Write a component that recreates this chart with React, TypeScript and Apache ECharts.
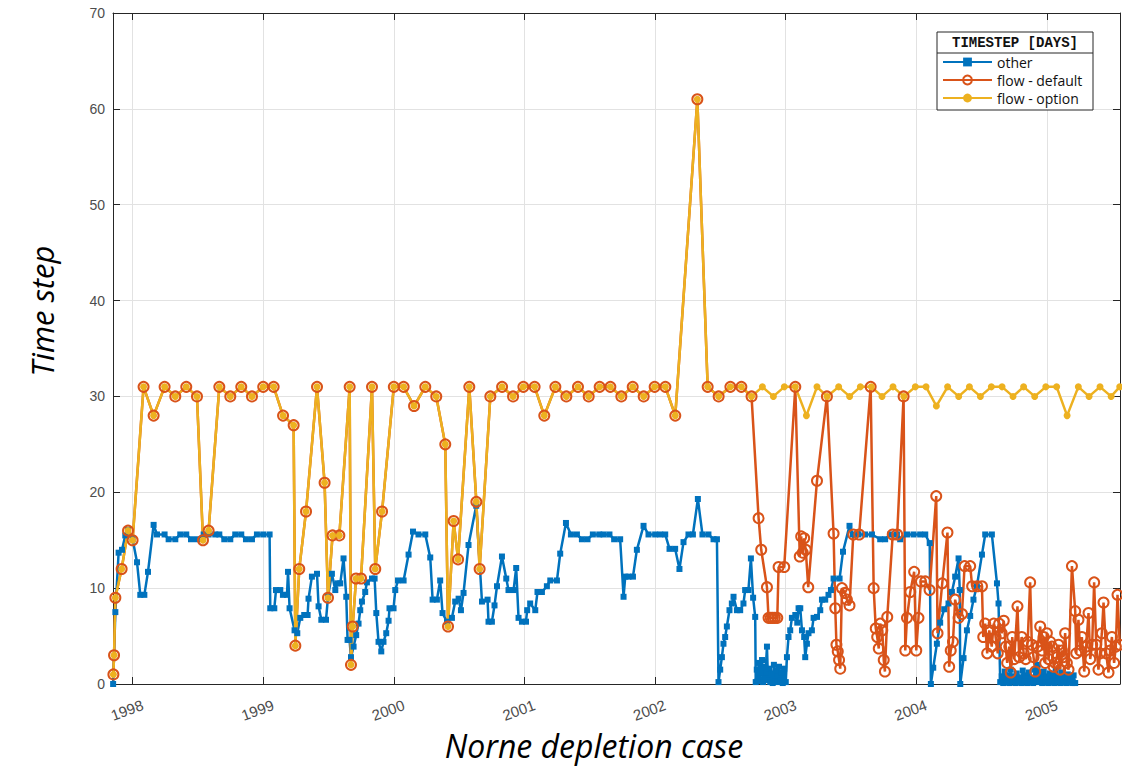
import React, { useEffect, useRef } from "react";
import * as echarts from "echarts";

// ---- axis settings (data units) ----
const X_MIN = 1997.85;
const X_MAX = 2005.56;
const YEAR_TICKS = [1998, 1999, 2000, 2001, 2002, 2003, 2004, 2005];
const Y_MIN = 0;
const Y_MAX = 70;
const Y_STEP = 10;

const SERIES_NAMES = ["other", "flow - default", "flow - option"];
const LEGEND_TITLE = "TIMESTEP [DAYS]";
const X_TITLE = "Norne depletion case";
const Y_TITLE = "Time step";

// ---- "other" (decimal year, days) ----
const otherX = [
  1997.851, 1997.868, 1997.893, 1997.919, 1997.944, 1997.965, 1998.0, 1998.034, 1998.059, 1998.09,
  1998.118, 1998.161, 1998.187, 1998.245, 1998.276, 1998.327, 1998.365, 1998.411, 1998.447, 1998.493,
  1998.544, 1998.582, 1998.633, 1998.664, 1998.702, 1998.748, 1998.786, 1998.832, 1998.868, 1998.914,
  1998.952, 1999.0, 1999.049, 1999.054, 1999.085, 1999.098, 1999.131, 1999.151, 1999.182, 1999.19,
  1999.202, 1999.24, 1999.261, 1999.284, 1999.314, 1999.34, 1999.347, 1999.373, 1999.412, 1999.424,
  1999.445, 1999.481, 1999.496, 1999.526, 1999.552, 1999.569, 1999.59, 1999.615, 1999.636, 1999.646,
  1999.661, 1999.672, 1999.692, 1999.712, 1999.73, 1999.743, 1999.756, 1999.781, 1999.794, 1999.833,
  1999.853, 1999.866, 1999.883, 1999.904, 1999.921, 1999.942, 1999.96, 1999.967, 1999.998, 2000.011,
  2000.032, 2000.075, 2000.113, 2000.147, 2000.189, 2000.241, 2000.279, 2000.297, 2000.33, 2000.355,
  2000.373, 2000.407, 2000.445, 2000.47, 2000.496, 2000.514, 2000.534, 2000.572, 2000.631, 2000.675,
  2000.718, 2000.725, 2000.751, 2000.771, 2000.79, 2000.828, 2000.861, 2000.878, 2000.917, 2000.937,
  2000.955, 2000.981, 2001.012, 2001.021, 2001.044, 2001.083, 2001.1, 2001.134, 2001.172, 2001.198,
  2001.249, 2001.274, 2001.318, 2001.356, 2001.402, 2001.44, 2001.483, 2001.524, 2001.573, 2001.606,
  2001.651, 2001.687, 2001.733, 2001.759, 2001.772, 2001.797, 2001.831, 2001.861, 2001.912, 2001.95,
  2002.001, 2002.04, 2002.078, 2002.111, 2002.154, 2002.187, 2002.218, 2002.256, 2002.29, 2002.328,
  2002.363, 2002.409, 2002.448, 2002.474, 2002.486, 2002.499, 2002.512, 2002.524, 2002.537, 2002.55,
  2002.57, 2002.588, 2002.601, 2002.627, 2002.652, 2002.677, 2002.69, 2002.715, 2002.734, 2002.751,
  2002.767, 2002.771, 2002.779, 2002.786, 2002.794, 2002.802, 2002.809, 2002.819, 2002.827, 2002.836,
  2002.844, 2002.857, 2002.865, 2002.874, 2002.882, 2002.891, 2002.901, 2002.91, 2002.92, 2002.93,
  2002.94, 2002.949, 2002.959, 2002.968, 2002.978, 2002.989, 2003.001, 2003.01, 2003.022, 2003.035,
  2003.048, 2003.074, 2003.089, 2003.099, 2003.112, 2003.125, 2003.142, 2003.15, 2003.163, 2003.175,
  2003.201, 2003.214, 2003.24, 2003.265, 2003.278, 2003.303, 2003.328, 2003.347, 2003.367, 2003.413,
  2003.439, 2003.489, 2003.515, 2003.558, 2003.609, 2003.661, 2003.724, 2003.762, 2003.801, 2003.852,
  2003.877, 2003.929, 2003.979, 2004.03, 2004.069, 2004.103, 2004.112, 2004.13, 2004.158, 2004.183,
  2004.214, 2004.247, 2004.273, 2004.298, 2004.324, 2004.333, 2004.337, 2004.362, 2004.388, 2004.413,
  2004.438, 2004.464, 2004.503, 2004.528, 2004.579, 2004.618, 2004.63, 2004.643, 2004.654, 2004.666,
  2004.677, 2004.689, 2004.7, 2004.712, 2004.723, 2004.735, 2004.746, 2004.758, 2004.769, 2004.781,
  2004.792, 2004.804, 2004.815, 2004.827, 2004.838, 2004.849, 2004.861, 2004.872, 2004.884, 2004.895,
  2004.907, 2004.918, 2004.93, 2004.941, 2004.953, 2004.964, 2004.976, 2004.987, 2004.999, 2005.01,
  2005.022, 2005.033, 2005.045, 2005.056, 2005.068, 2005.079, 2005.091, 2005.102, 2005.114, 2005.125,
  2005.137, 2005.148, 2005.16, 2005.171, 2005.183, 2005.194, 2005.205, 2005.217,
];
const otherY = [
  0, 7.5, 13.7, 14, 15.5, 16.1, 15.1, 12.7, 9.3, 9.3,
  11.7, 16.6, 15.6, 15.6, 15.1, 15.1, 15.6, 15.6, 15.1, 15.1,
  15.6, 15.6, 15.6, 15.6, 15.1, 15.1, 15.6, 15.6, 15.1, 15.1,
  15.6, 15.6, 15.6, 7.9, 7.9, 9.8, 9.8, 9.3, 9.3, 11.7,
  7.9, 5.6, 5.3, 6.9, 7.2, 7.2, 8.9, 11.2, 11.5, 8.1,
  6.7, 6.7, 9.1, 11.5, 9.8, 10.5, 10.5, 13.1, 9.1, 4.6,
  4.6, 2.8, 3.9, 5.1, 6.3, 7.7, 8.6, 9.6, 10.6, 11,
  11, 7.4, 4.4, 3.4, 4.4, 5.3, 6.6, 7.9, 7.9, 9.8,
  10.8, 10.8, 13.5, 15.9, 15.6, 15.6, 13.2, 8.8, 8.8, 10.8,
  7.4, 6.5, 6.9, 8.6, 8.9, 7.7, 9.5, 14.5, 18.6, 8.6,
  8.8, 6.5, 6.5, 8.2, 10.2, 13.3, 11, 9.8, 9.8, 12.1,
  6.9, 6.5, 6.5, 7.7, 8.4, 7.7, 9.6, 9.6, 10.2, 10.8,
  10.8, 13.6, 16.8, 15.6, 15.6, 15.1, 15.1, 15.6, 15.6, 15.6,
  15.6, 15.1, 15.1, 9.1, 11.2, 11.2, 11.2, 14, 16.5, 15.6,
  15.6, 15.6, 15.6, 14.1, 14.1, 12, 14.8, 15.6, 15.6, 19.3,
  15.6, 15.6, 15.1, 15.1, 0.2, 1.5, 2.8, 4.2, 4.9, 6,
  7.7, 8.4, 9.1, 7.7, 7.7, 8.4, 9.8, 9.8, 13.1, 9,
  7, 0.2, 1.5, 0.3, 2.2, 0.5, 1.2, 2.5, 0.2, 1.8,
  0.6, 3.9, 0.4, 1.6, 0.2, 1.1, 0.1, 2, 0.3, 1.4,
  0.2, 1.8, 0.4, 1.2, 0.1, 1.6, 0.2, 2.8, 4.9, 5.6,
  6.9, 7.2, 6.4, 7.9, 7.9, 5.6, 4.9, 2.8, 4.2, 5.3,
  5.6, 6.9, 7, 7.7, 8.8, 8.8, 9.3, 9.8, 11, 11,
  13.8, 16.5, 15.6, 15.6, 15.6, 15.6, 15.1, 15.1, 15.6, 15.6,
  15.1, 15.6, 15.6, 15.6, 15.6, 14.7, 0, 1.7, 4.2, 6.4,
  7.8, 8.4, 9.6, 11.2, 13.1, 9.8, 0, 2.7, 5.6, 7.1,
  8.8, 10.2, 13.5, 15.6, 15.6, 10.5, 8.4, 0.2, 0.8, 0.1,
  1.3, 0.2, 0.9, 0.1, 1.5, 0.3, 0.8, 0.1, 1.1, 0.2,
  0.7, 0.1, 1.4, 0.3, 0.9, 0.1, 1.2, 0.2, 0.6, 0.1,
  1.5, 0.3, 2, 0.2, 1, 0.1, 1.3, 0.2, 0.8, 0.1,
  1.1, 0.2, 0.9, 0.1, 1.4, 0.3, 0.7, 0.1, 1.2, 0.2,
  0.8, 0.1, 1, 0.2, 0.6, 0.1, 0.9, 0.1,
];

// ---- "flow - option" ----
const optionX = [
  1997.853, 1997.858, 1997.868, 1997.916, 1997.965, 1998.0, 1998.084, 1998.161, 1998.245, 1998.327,
  1998.411, 1998.493, 1998.539, 1998.582, 1998.664, 1998.748, 1998.832, 1998.914, 1999.0, 1999.08,
  1999.152, 1999.233, 1999.246, 1999.276, 1999.328, 1999.412, 1999.47, 1999.496, 1999.531, 1999.583,
  1999.662, 1999.672, 1999.685, 1999.711, 1999.749, 1999.833, 1999.858, 1999.91, 2000.0, 2000.075,
  2000.155, 2000.241, 2000.325, 2000.394, 2000.415, 2000.458, 2000.492, 2000.578, 2000.632, 2000.657,
  2000.739, 2000.829, 2000.913, 2000.992, 2001.078, 2001.152, 2001.237, 2001.321, 2001.41, 2001.492,
  2001.576, 2001.658, 2001.742, 2001.829, 2001.913, 2001.997, 2002.079, 2002.155, 2002.324, 2002.403,
  2002.487, 2002.577, 2002.661, 2002.739, 2002.822, 2002.906, 2002.99, 2003.074, 2003.159, 2003.24,
  2003.317, 2003.406, 2003.49, 2003.572, 2003.656, 2003.738, 2003.822, 2003.905, 2003.993, 2004.075,
  2004.154, 2004.24, 2004.325, 2004.407, 2004.491, 2004.575, 2004.657, 2004.741, 2004.822, 2004.907,
  2004.992, 2005.075, 2005.155, 2005.241, 2005.323, 2005.407, 2005.492, 2005.558,
];
const optionY = [
  1, 3, 9, 12, 16, 15, 31, 28, 31, 30,
  31, 30, 15, 16, 31, 30, 31, 30, 31, 31,
  28, 27, 4, 12, 18, 31, 21, 9, 15.5, 15.5,
  31, 2, 6, 11, 11, 31, 12, 18, 31, 31,
  29, 31, 30, 25, 6, 17, 13, 31, 19, 12,
  30, 31, 30, 31, 31, 28, 31, 30, 31, 30,
  31, 31, 30, 31, 30, 31, 31, 28, 61, 31,
  30, 31, 31, 30, 31, 30, 31, 31, 28, 31,
  30, 31, 30, 31, 31, 30, 31, 30, 31, 31,
  29, 31, 30, 31, 30, 31, 31, 30, 31, 30,
  31, 31, 28, 31, 30, 31, 30, 31,
];

// ---- "flow - default": same as option up to the split, then its own steps ----
const DEFAULT_SPLIT_YEAR = 2002.74;
const defaultTailX = [
  2002.793, 2002.813, 2002.857, 2002.869, 2002.886, 2002.901, 2002.917, 2002.936, 2002.946, 2002.989,
  2003.074, 2003.108, 2003.119, 2003.131, 2003.142, 2003.154, 2003.173, 2003.24, 2003.316, 2003.367,
  2003.38, 2003.389, 2003.399, 2003.409, 2003.418, 2003.431, 2003.456, 2003.469, 2003.489, 2003.518,
  2003.563, 2003.651, 2003.674, 2003.69, 2003.701, 2003.713, 2003.724, 2003.74, 2003.751, 2003.76,
  2003.778, 2003.82, 2003.854, 2003.903, 2003.916, 2003.929, 2003.954, 2003.984, 2004.0, 2004.017,
  2004.036, 2004.069, 2004.102, 2004.153, 2004.163, 2004.199, 2004.239, 2004.252, 2004.264, 2004.281,
  2004.298, 2004.324, 2004.35, 2004.37, 2004.413, 2004.428, 2004.467, 2004.503, 2004.513, 2004.528,
  2004.543, 2004.559, 2004.578, 2004.593, 2004.608, 2004.624, 2004.635, 2004.654, 2004.67, 2004.685,
  2004.696, 2004.712, 2004.723, 2004.735, 2004.75, 2004.775, 2004.788, 2004.807, 2004.823, 2004.838,
  2004.853, 2004.872, 2004.885, 2004.898, 2004.911, 2004.93, 2004.949, 2004.964, 2004.976, 2004.987,
  2005.0, 2005.013, 2005.026, 2005.039, 2005.052, 2005.064, 2005.077, 2005.089, 2005.102, 2005.115,
  2005.127, 2005.14, 2005.153, 2005.166, 2005.192, 2005.217, 2005.225, 2005.242, 2005.255, 2005.268,
  2005.286, 2005.301, 2005.319, 2005.332, 2005.347, 2005.362, 2005.378, 2005.395, 2005.408, 2005.421,
  2005.434, 2005.454, 2005.472, 2005.485, 2005.498, 2005.515, 2005.528, 2005.541, 2005.558,
];
const defaultTailY = [
  17.3, 14, 10.1, 6.9, 6.9, 6.9, 6.9, 6.9, 12.2, 12.2,
  31, 13.3, 15.4, 13.7, 15.2, 14, 10.1, 21.2, 30, 15.7,
  7.9, 4.1, 3.4, 2.5, 1.6, 10, 9.5, 8.8, 8.2, 15.6,
  15.6, 31, 10, 5.8, 4.9, 3.7, 6.3, 5.6, 2.5, 1.3,
  7, 15.6, 15.6, 30, 3.5, 6.9, 9.6, 11.7, 3.5, 6.9,
  10.7, 10.7, 9.8, 19.6, 5.3, 10.5, 15.8, 1.8, 3.5, 4.4,
  8.8, 6.9, 7.3, 12.3, 12.3, 10.2, 10.2, 10.2, 4.9, 6.3,
  3.2, 5.6, 3.9, 6.3, 4.9, 3.2, 6.3, 5.3, 6.6, 3.9,
  2.2, 3.9, 1.2, 4.9, 2.6, 8.1, 2.8, 4.9, 3.2, 2.6,
  4.4, 10.6, 4.1, 2.8, 1.3, 3.9, 6, 3.5, 4.9, 2.2,
  5.3, 2.6, 4.4, 3.9, 1.8, 2.2, 2.8, 4.1, 1.5, 3.5,
  2.8, 5.3, 2.2, 1.5, 12.3, 7.6, 3.2, 6.7, 3.5, 4.9,
  1.3, 3.9, 7.4, 2.6, 4.1, 10.6, 4.1, 1.5, 3.2, 5.3,
  8.5, 3.2, 1.2, 3.5, 4.9, 2.2, 3.9, 9.3, 4.1,
];

const BLUE = "#0072BD";
const ORANGE = "#D95319";
const YELLOW = "#EDB120";
const AXIS_COLOR = "#262626";
const LABEL_COLOR = "#4d4d4d";
const GRID_COLOR = "#e2e2e2";
const TICK_FONT = "'Liberation Sans', Arial, sans-serif";
const TEXT_FONT = "'Open Sans', 'Noto Sans', sans-serif";

const pairs = (xs: number[], ys: number[]) => xs.map((x, i) => [x, ys[i]]);

export default function App() {
  const ref = useRef<HTMLDivElement>(null);

  useEffect(() => {
    if (!ref.current) return;
    const chart = echarts.init(ref.current, null, { renderer: "svg" });

    const otherData = pairs(otherX, otherY);
    const optionData = pairs(optionX, optionY);
    const sharedData = optionData.filter((p) => p[0] <= DEFAULT_SPLIT_YEAR);
    const defaultData = [...sharedData, ...pairs(defaultTailX, defaultTailY)];

    chart.setOption({
      animation: false,
      backgroundColor: "#ffffff",
      grid: { left: 113, right: 2, top: 13, bottom: 82, containLabel: false },
      xAxis: [
        {
          type: "value",
          min: X_MIN,
          max: X_MAX,
          position: "bottom",
          axisLine: { show: true, onZero: false, lineStyle: { color: AXIS_COLOR, width: 1 } },
          axisTick: { show: true, inside: true, length: 7, customValues: YEAR_TICKS, lineStyle: { color: AXIS_COLOR } },
          axisLabel: {
            show: true,
            customValues: YEAR_TICKS,
            rotate: 20,
            align: "center",
            verticalAlign: "middle",
            margin: 24,
            padding: [0, 12, 0, 0],
            color: LABEL_COLOR,
            fontSize: 15,
            fontFamily: TICK_FONT,
            formatter: (v: number) => String(Math.round(v)),
          },
          splitLine: { show: true, lineStyle: { color: GRID_COLOR, width: 1 } },
        },
        {
          type: "value",
          min: X_MIN,
          max: X_MAX,
          position: "top",
          axisLine: { show: true, onZero: false, lineStyle: { color: AXIS_COLOR, width: 1 } },
          axisTick: { show: true, inside: true, length: 7, customValues: YEAR_TICKS, lineStyle: { color: AXIS_COLOR } },
          axisLabel: { show: false },
          splitLine: { show: false },
        },
      ],
      yAxis: [
        {
          type: "value",
          min: Y_MIN,
          max: Y_MAX,
          interval: Y_STEP,
          position: "left",
          axisLine: { show: true, onZero: false, lineStyle: { color: AXIS_COLOR, width: 1 } },
          axisTick: { show: true, inside: true, length: 7, lineStyle: { color: AXIS_COLOR } },
          axisLabel: { show: true, margin: 8, color: LABEL_COLOR, fontSize: 14, fontFamily: TICK_FONT },
          splitLine: { show: true, lineStyle: { color: GRID_COLOR, width: 1 } },
        },
        {
          type: "value",
          min: Y_MIN,
          max: Y_MAX,
          interval: Y_STEP,
          position: "right",
          axisLine: { show: true, onZero: false, lineStyle: { color: AXIS_COLOR, width: 1 } },
          axisTick: { show: true, inside: true, length: 7, lineStyle: { color: AXIS_COLOR } },
          axisLabel: { show: false },
          splitLine: { show: false },
        },
      ],
      legend: {
        show: true,
        data: SERIES_NAMES,
        orient: "vertical",
        left: 942,
        top: 55,
        padding: 0,
        itemWidth: 49,
        itemHeight: 11,
        itemGap: 4,
        selectedMode: false,
        z: 6,
        textStyle: { fontSize: 14, fontFamily: TEXT_FONT, color: "#111" },
      },
      graphic: [
        {
          type: "rect",
          z: 5,
          shape: { x: 937, y: 32, width: 156, height: 78 },
          style: { fill: "#ffffff", stroke: AXIS_COLOR, lineWidth: 1 },
        },
        {
          type: "line",
          z: 5,
          shape: { x1: 937, y1: 53, x2: 1093, y2: 53 },
          style: { stroke: AXIS_COLOR, lineWidth: 1 },
        },
        {
          type: "text",
          z: 7,
          x: 1015,
          y: 43,
          style: {
            text: LEGEND_TITLE,
            fontFamily: "'Liberation Mono', 'DejaVu Sans Mono', monospace",
            fontWeight: "bold",
            fontSize: 14,
            fill: "#111",
            textAlign: "center",
            textVerticalAlign: "middle",
          },
        },
        {
          type: "text",
          x: 42,
          y: 311,
          rotation: Math.PI / 2,
          style: {
            text: Y_TITLE,
            fontFamily: TEXT_FONT,
            fontStyle: "italic",
            fontSize: 31,
            fill: "#000",
            textAlign: "center",
            textVerticalAlign: "middle",
          },
        },
        {
          type: "text",
          x: 594,
          y: 745,
          style: {
            text: X_TITLE,
            fontFamily: TEXT_FONT,
            fontStyle: "italic",
            fontSize: 32,
            fill: "#000",
            textAlign: "center",
            textVerticalAlign: "middle",
          },
        },
      ],
      series: [
        {
          name: SERIES_NAMES[0],
          type: "line",
          data: otherData,
          xAxisIndex: 0,
          yAxisIndex: 0,
          symbol: "rect",
          symbolSize: 6,
          showAllSymbol: true,
          lineStyle: { color: BLUE, width: 2.5 },
          itemStyle: { color: BLUE },
          emphasis: { disabled: true },
          z: 2,
        },
        {
          name: SERIES_NAMES[1],
          type: "line",
          data: defaultData,
          xAxisIndex: 0,
          yAxisIndex: 0,
          symbol: "circle",
          symbolSize: 10,
          showAllSymbol: true,
          lineStyle: { color: ORANGE, width: 2.5 },
          itemStyle: { color: "rgba(255,255,255,0)", borderColor: ORANGE, borderWidth: 2 },
          emphasis: { disabled: true },
          z: 2,
        },
        {
          name: SERIES_NAMES[2],
          type: "line",
          data: optionData,
          xAxisIndex: 0,
          yAxisIndex: 0,
          symbol: "circle",
          symbolSize: 7,
          showAllSymbol: true,
          lineStyle: { color: YELLOW, width: 2.5 },
          itemStyle: { color: YELLOW },
          emphasis: { disabled: true },
          z: 2,
        },
      ],
    });

    return () => chart.dispose();
  }, []);

  return (
    <div
      ref={ref}
      style={{ position: "absolute", left: 0, top: 0, width: 1122, height: 766, background: "#fff" }}
    />
  );
}
